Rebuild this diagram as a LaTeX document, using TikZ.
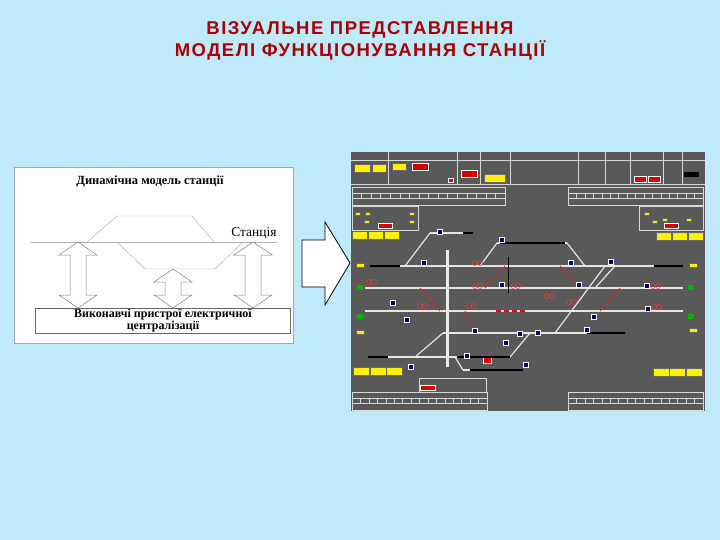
\documentclass[tikz,border=0pt]{standalone}
\usepackage{fontspec}
\setmainfont{Liberation Serif}
\newfontfamily\hd[LetterSpace=8]{Liberation Sans}
\begin{document}
\begin{tikzpicture}[x=1pt,y=-1pt,
  track/.style={draw=white!80!gray,line width=1.2pt},
  dead/.style={draw=black,line width=1.6pt},
  cell/.style={draw=white!70!gray,line width=0.4pt},
  ybox/.style={fill=yellow,draw=black!60,line width=0.2pt},
  rbox/.style={fill=red!85!black,draw=white,line width=0.2pt},
  sig/.style={fill=blue!40!black,draw=white,line width=0.3pt},
  darr/.style={draw=gray,fill=white,line width=0.5pt}]
\fill[cyan!25!white] (0,0) rectangle (720,540);
\useasboundingbox (0,0) rectangle (720,540);
\node[font=\hd\bfseries\fontsize{18.5}{22}\selectfont,text=red!65!black,align=center] (title) at (360,41)
 {ВІЗУАЛЬНЕ ПРЕДСТАВЛЕННЯ\\МОДЕЛІ ФУНКЦІОНУВАННЯ СТАНЦІЇ};
% left diagram
\draw[fill=white,draw=gray!70] (14,167) rectangle (293,343);
\node[font=\bfseries\fontsize{12.5}{13}\selectfont] (dyn) at (150,181) {Динамічна модель станції};
\draw[gray!60] (30,242) -- (277,242);
\node[font=\fontsize{13.5}{14}\selectfont,anchor=south] (st) at (254,243) {Станція};
\draw[gray!70] (87,242) -- (117,216) -- (192,216) -- (214,242);
\draw[gray!70] (117,242) -- (145,269) -- (215,269) -- (243,242);
\foreach \cx/\t in {78/242,173/269,253/242}{
 \draw[darr] (\cx,\t) -- (\cx+19,\t+13) -- (\cx+8,\t+13) -- (\cx+8,308-13) -- (\cx+19,308-13)
  -- (\cx,308) -- (\cx-19,308-13) -- (\cx-8,308-13) -- (\cx-8,\t+13) -- (\cx-19,\t+13) -- cycle;}
\draw[fill=white,draw=gray!80!black] (35,308) rectangle (290,333);
\node[font=\bfseries\fontsize{12}{11.5}\selectfont,align=center] (exec) at (163,320.5)
 {Виконавчі пристрої електричної\\централізації};
% big arrow
\draw[fill=white,line width=0.8pt] (302,240) -- (325,240) -- (325,222) -- (350,263) -- (325,305) -- (325,287) -- (302,287) -- cycle;
% right panel
\fill[black!65] (351,152) rectangle (705,411);
\draw[cell] (351,184) -- (705,184);
\foreach \x in {388,457,480,510,578,605,630,663,682} \draw[cell] (\x,152) -- (\x,184);
\draw[cell] (351,160) -- (705,160);
\foreach \xa/\xb/\ya in {352/505/187,568/703/187,352/487/392,568/703/392}{
 \draw[cell] (\xa,\ya) rectangle (\xb,\ya+18);
 \draw[cell] (\xa,\ya+6) -- (\xb,\ya+6);
 \draw[cell] (\xa,\ya+11) -- (\xb,\ya+11);
 \foreach \i in {0,...,15} \draw[cell] ({\xa+\i*(\xb-\xa)/16},\ya+6) -- ({\xa+\i*(\xb-\xa)/16},\ya+11);}
\draw[cell] (352,206) rectangle (418,230); \draw[cell] (639,206) rectangle (703,230);
\draw[cell] (419,378) rectangle (486,392);
\fill[ybox] (354,164) rectangle (370,172); \fill[ybox] (372,164) rectangle (386,172);
\fill[ybox] (392,163) rectangle (406,170); \fill[rbox] (412,163) rectangle (428,170);
\fill[rbox] (461,170) rectangle (477,177); \fill[ybox] (484,174) rectangle (505,182);
\fill[rbox] (634,176) rectangle (646,182); \fill[rbox] (648,176) rectangle (660,182);
\fill[black] (684,172) rectangle (699,177); \fill[rbox] (448,178) rectangle (453,182);
\fill[rbox] (378,223) rectangle (392,228); \fill[rbox] (664,223) rectangle (678,228);
\fill[rbox] (420,385) rectangle (435,390); \fill[rbox] (483,357) rectangle (491,363);
\foreach \x/\y in {355/212,365/212,364/220,409/212,409/220,644/212,652/220,662/218,686/218}
 \fill[ybox] (\x,\y) rectangle +(5,3);
\foreach \x in {352,368,384} \fill[ybox] (\x,231) rectangle +(15,8);
\foreach \x in {656,672,688} \fill[ybox] (\x,232) rectangle +(15,8);
\foreach \x in {353,370,386} \fill[ybox] (\x,367) rectangle +(16,8);
\foreach \x in {653,669,686} \fill[ybox] (\x,368) rectangle +(16,8);
\foreach \x/\y in {356/263,356/330,689/263,689/328} \fill[ybox] (\x,\y) rectangle +(8,4);
\foreach \x/\y in {357/285,357/314,688/285,688/314} \fill[green!70!black] (\x,\y) rectangle +(6,5);
% tracks
\foreach \y/\xa/\xb in {266/370/683,288/365/683,311/365/683,333/443/623}
 \draw[track] (\xa,\y) -- (\xb,\y);
\draw[track] (430,233) -- (473,233); \draw[track] (497,243) -- (567,243);
\draw[track] (368,357) -- (510,357); \draw[track] (463,370) -- (523,370);
\draw[track] (405,266) -- (430,233); \draw[track] (480,266) -- (497,243);
\draw[track] (567,243) -- (585,266); \draw[track] (415,357) -- (443,333);
\draw[track] (510,357) -- (530,333); \draw[track] (455,357) -- (463,370);
\draw[track] (555,333) -- (605,266); \draw[track] (615,266) -- (595,288);
\draw[track,red!70!gray,line width=0.8pt] (420,288) -- (440,311);
\draw[track,red!70!gray,line width=0.8pt] (485,288) -- (505,266);
\draw[track,red!70!gray,line width=0.8pt] (560,266) -- (580,288);
\draw[track,red!70!gray,line width=0.8pt] (600,311) -- (620,288);
\draw[track,red!70!gray,line width=0.8pt] (465,311) -- (475,330);
\fill[white!85!gray] (446,250) rectangle (449,367);
\draw[dead] (370,266) -- (400,266); \draw[dead] (500,243) -- (565,243);
\draw[dead] (463,233) -- (473,233); \draw[dead] (654,266) -- (683,266);
\draw[dead] (368,357) -- (388,357); \draw[dead] (587,333) -- (625,333);
\draw[dead] (470,370) -- (523,370); \draw[dead] (457,357) -- (510,357);
\draw[black,line width=0.8pt] (508,257) -- (508,293);
\draw[red,line width=2pt,dash pattern=on 5pt off 3pt] (496,311) -- (527,311);
\foreach \x/\y in {437/229,499/237,421/260,568/260,608/259,499/282,576/282,644/283,645/306,591/314,472/328,517/331,535/330,584/327,464/353,408/364,523/362,503/340,404/317,390/300}
 \fill[sig] (\x,\y) rectangle +(5,5);
\foreach \x/\y in {369/282,475/286,469/306,420/306,569/302,654/307,513/286,475/263,547/296,653/286}
 \draw[red!80,line width=0.5pt] (\x,\y) circle (2.5) (\x+5,\y) circle (2.5);
\end{tikzpicture}
\end{document}
